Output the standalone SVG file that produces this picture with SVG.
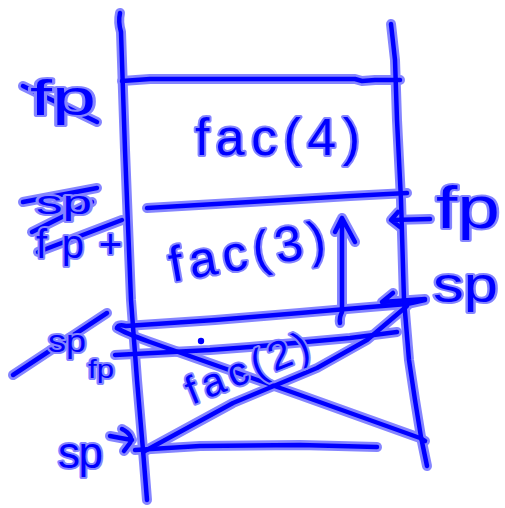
<svg xmlns="http://www.w3.org/2000/svg" xmlns:xlink="http://www.w3.org/1999/xlink" width="505" height="508" viewBox="0 0 505 508">
<style>
.halo{fill:none;stroke:#8585ff;stroke-width:10;stroke-linecap:round;stroke-linejoin:round}
.core{fill:none;stroke:#0000ff;stroke-width:4.5;stroke-linecap:round;stroke-linejoin:round}
.t{font-family:"Liberation Sans","DejaVu Sans",sans-serif;fill:#0000ff;stroke:#8585ff;stroke-width:4;stroke-linejoin:round;paint-order:stroke}
</style>
<defs>
<g id="ink">
<path id="left-wall" d="M120,13 Q118,22 121,32 L125,150 L131,300 L137,380 L143,450 L147,500"/>
<path id="right-wall" d="M391,24 L395,60 L397,120 L401,200 L404,300 L409,360 L415,400 L421,437 L427,466"/>
<path id="line-top" d="M122,81 L150,79 L355,79 L362,81 L375,80 L400,80"/>
<path id="line-fac3" d="M147,208 L250,202 L350,196 L407,193"/>
<path id="line-fac2" d="M117,328 Q118,324 126,326 L215,320 L300,313 L370,307 L407,304 L425,300"/>
<path id="line-fp" d="M115,355 L210,350 L250,347 L350,338 L397,332"/>
<path id="line-bottom" d="M135,450 L200,446 L300,445 L377,447"/>
<path id="cross-1" d="M117,328 Q125,333 150,342 L300,395 L420,438 L425,441"/>
<path id="cross-2" d="M143,452 L233,403 L317,368 L367,340 L407,306"/>
<path id="up-arrow" d="M340,323 Q339,318 342,312 L342,218 M335,232 L342,218 L355,242"/>
<path id="fp-arrow" d="M392,220 L430,219 M398,212 L391,220 L400,227"/>
<path id="sp-arrow" d="M382,302 L425,299 M393,293 L382,302"/>
<path id="sp-bottom-arrow" d="M110,436 Q120,438 132,440 M122,429 Q134,435 130,443 L124,451"/>
<path id="strike-fp1" d="M23,86 L97,122"/>
<path id="strike-sp2a" d="M23,202 L97,188"/>
<path id="strike-sp2b" d="M32,232 L92,202"/>
<path id="strike-fp2" d="M38,252 L122,220"/>
<path id="strike-sp3" d="M13,375 L107,313"/>
</g>
</defs>
<g id="connectors">
<use xlink:href="#ink" href="#ink" class="halo"/>
<use xlink:href="#ink" href="#ink" class="core"/>
<circle id="dot" cx="201" cy="341" r="3.2" fill="#0000ff"/>
</g>
<g id="frame-fac4"><text class="t" x="195" y="155" font-size="52" textLength="165" lengthAdjust="spacing">fac(4)</text></g>
<g id="frame-fac3"><text class="t" x="172" y="282" font-size="50" textLength="158" lengthAdjust="spacing" transform="rotate(-10 172 282)">fac(3)</text></g>
<g id="frame-fac2"><text class="t" x="192" y="405" font-size="40" textLength="130" lengthAdjust="spacing" transform="rotate(-22 192 405)">fac(2)</text></g>
<g id="label-fp-old1"><text class="t" x="30" y="115" font-size="50" textLength="66" lengthAdjust="spacingAndGlyphs">fp</text></g>
<g id="label-sp-old1"><text class="t" x="36" y="214" font-size="34" textLength="56" lengthAdjust="spacingAndGlyphs">sp</text></g>
<g id="label-fp-old2"><text class="t" x="36" y="258" font-size="40" textLength="86" lengthAdjust="spacing">fp+</text></g>
<g id="label-sp-old2"><text class="t" x="48" y="352" font-size="32" textLength="38" lengthAdjust="spacingAndGlyphs">sp</text></g>
<g id="label-fp-left"><text class="t" x="88" y="378" font-size="26" textLength="26" lengthAdjust="spacingAndGlyphs">fp</text></g>
<g id="label-sp-bottom"><text class="t" x="58" y="468" font-size="44" textLength="45" lengthAdjust="spacing">sp</text></g>
<g id="label-fp-right"><text class="t" x="436" y="228" font-size="60" textLength="64" lengthAdjust="spacingAndGlyphs">fp</text></g>
<g id="label-sp-right"><text class="t" x="433" y="302" font-size="50" textLength="65" lengthAdjust="spacingAndGlyphs">sp</text></g>
</svg>
